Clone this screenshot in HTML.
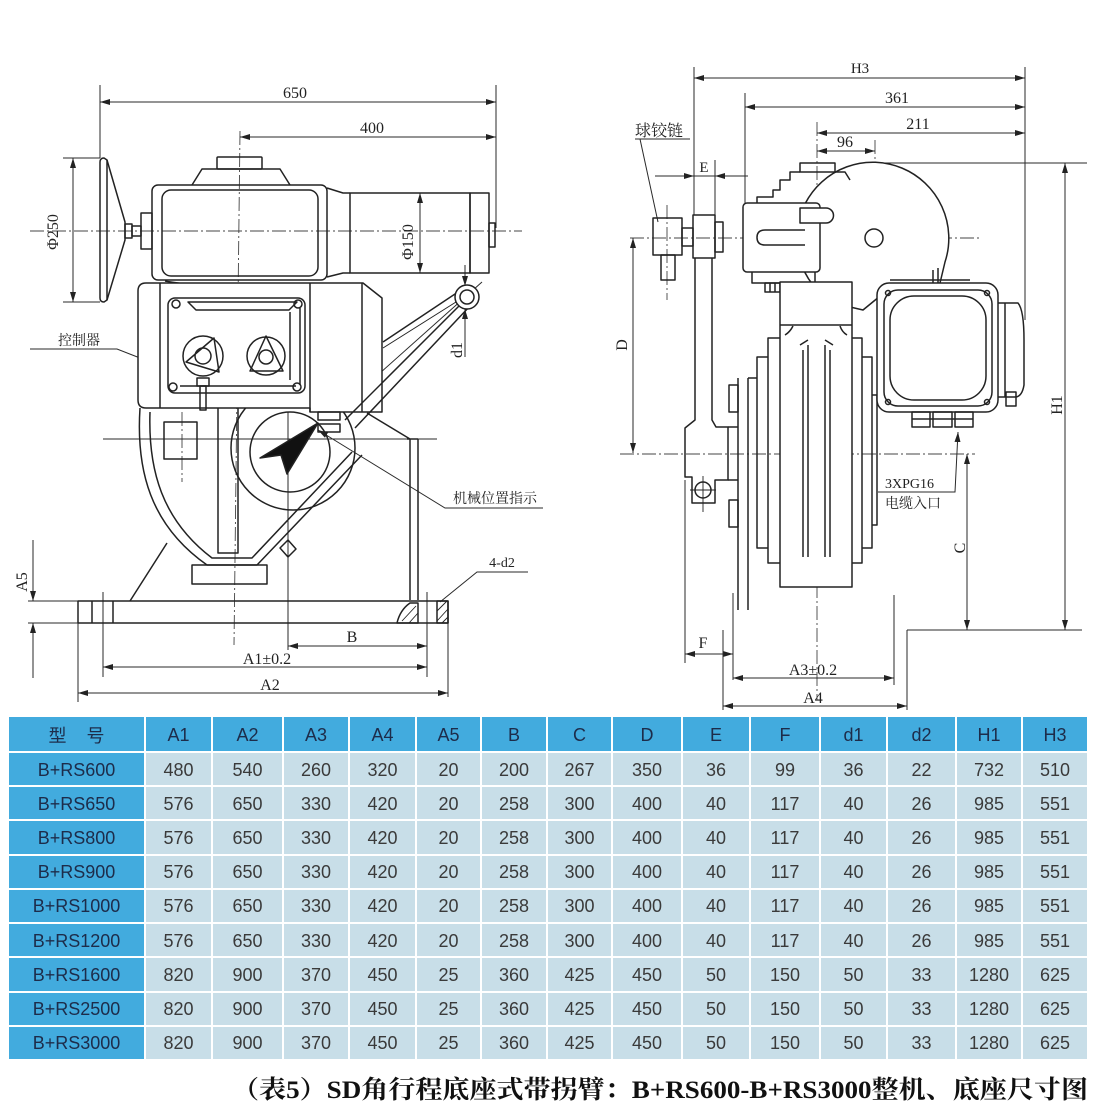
<!DOCTYPE html>
<html><head><meta charset="utf-8">
<style>
html,body{margin:0;padding:0;background:#fff;}
body{width:1111px;height:1113px;position:relative;overflow:hidden;}
.tbl{position:absolute;left:9px;top:717px;width:1080px;display:grid;
grid-template-columns:137px 67px 71px 66px 67px 65px 66px 65px 70px 68px 70px 67px 69px 66px 66px;
grid-template-rows:36px repeat(9,34.22px);}
.tbl div{box-sizing:border-box;border-right:2px solid #fff;border-bottom:2px solid #fff;display:flex;align-items:center;justify-content:center;background:#c8dee8;font-family:"Liberation Sans","Noto Sans CJK SC",sans-serif;font-size:18px;color:#3a3a3a;padding-top:2px;}
.tbl div.h{background:#42abde;color:#1d2c4a;}
.tbl div.m{background:#42abde;color:#1d2c4a;}
</style></head><body>
<svg width="1111" height="712" style="position:absolute;left:0;top:0" xmlns="http://www.w3.org/2000/svg">
<defs>
<marker id="a" viewBox="0 0 10 6" refX="10" refY="3" markerWidth="10" markerHeight="6" markerUnits="userSpaceOnUse" orient="auto-start-reverse"><path d="M0,0L10,3L0,6z" fill="#222"/></marker>
</defs>
<!-- centerlines -->
<g fill="none" stroke="#444" stroke-width="0.9" stroke-dasharray="14 3 2 3">
<path d="M30,231H522"/><path d="M240,131L234,645"/><path d="M182,412V482"/>
<path d="M630,238H980"/><path d="M620,454H975"/><path d="M817,122V700"/><path d="M875,140V265"/><path d="M667,205V300"/>
</g>
<!-- dimension lines -->
<g fill="none" stroke="#2a2a2a" stroke-width="1">
<path d="M100,102H496" marker-start="url(#a)" marker-end="url(#a)"/>
<path d="M100,85V158M496,85V228"/>
<path d="M240,137H496" marker-start="url(#a)" marker-end="url(#a)"/>
<path d="M73,158V302" marker-start="url(#a)" marker-end="url(#a)"/>
<path d="M63,158H100M63,302H100"/>
<path d="M420,193V273" marker-start="url(#a)" marker-end="url(#a)"/>
<path d="M465,265V286" marker-end="url(#a)"/>
<path d="M465,309V357" marker-start="url(#a)"/>
<path d="M33,540V601" marker-end="url(#a)"/>
<path d="M33,623V678" marker-start="url(#a)"/>
<path d="M28,601H78M28,623H78"/>
<path d="M288,646H427" marker-start="url(#a)" marker-end="url(#a)"/>
<path d="M288,412V650"/>
<path d="M103,667H427" marker-start="url(#a)" marker-end="url(#a)"/>
<path d="M103,592V677M427,592V677"/>
<path d="M78,693H448" marker-start="url(#a)" marker-end="url(#a)"/>
<path d="M78,623V702M448,623V697"/>
<path d="M30,349H117L158,365" marker-end="url(#a)"/>
<path d="M543,508H445L318,430" marker-end="url(#a)"/>
<path d="M528,572H477L440,602"/>
<path d="M103,439H437"/>
<!-- right view dims -->
<path d="M694,78H1025" marker-start="url(#a)" marker-end="url(#a)"/>
<path d="M745,107H1025" marker-start="url(#a)" marker-end="url(#a)"/>
<path d="M817,133H1025" marker-start="url(#a)" marker-end="url(#a)"/>
<path d="M817,151H875" marker-start="url(#a)" marker-end="url(#a)"/>
<path d="M694,67V215M745,93V203M1025,67V320M875,163H1087"/>
<path d="M1065,163V630" marker-start="url(#a)" marker-end="url(#a)"/>
<path d="M967,454V630" marker-start="url(#a)" marker-end="url(#a)"/>
<path d="M633,238V453" marker-start="url(#a)" marker-end="url(#a)"/>
<path d="M655,176H694" marker-end="url(#a)"/>
<path d="M748,176H715" marker-end="url(#a)"/>
<path d="M694,176H715M715,160V215"/>
<path d="M685,654H733" marker-start="url(#a)" marker-end="url(#a)"/>
<path d="M685,480V663M733,593V680"/>
<path d="M733,678H894" marker-start="url(#a)" marker-end="url(#a)"/>
<path d="M894,595V685"/>
<path d="M723,706H907" marker-start="url(#a)" marker-end="url(#a)"/>
<path d="M723,630V710M907,630V710M907,630H1082"/>
<path d="M635,139H690M640,139L658,222"/>
<path d="M878,492H955L958,432" marker-end="url(#a)"/>
<path d="M380,373L482,282"/>
</g>
<!-- main outlines -->
<g fill="none" stroke="#222" stroke-width="1.5" stroke-linejoin="round">
<!-- handwheel -->
<path d="M100,162Q100,158 104,158L107,160L125,222V240L107,300L104,302Q100,302 100,298Z"/>
<path d="M107,160V300"/>
<rect x="125" y="224" width="7" height="14"/>
<rect x="132" y="226" width="9" height="10"/>
<rect x="141" y="213" width="11" height="36"/>
<!-- upper housing -->
<rect x="152" y="185" width="175" height="95" rx="6"/>
<rect x="162" y="190" width="156" height="86" rx="9"/>
<path d="M192,185L202,169H280L290,185"/>
<rect x="217" y="157" width="45" height="12" rx="1"/>
<path d="M327,188L343,193H350M327,277L343,273H350"/>
<rect x="350" y="193" width="120" height="80"/>
<rect x="470" y="193" width="19" height="80"/>
<rect x="489" y="223" width="6" height="24"/>
<path d="M165,281Q200,288 300,286M180,285H290"/>
<!-- circles -->
<circle cx="293" cy="448" r="62"/>
<circle cx="290" cy="452" r="40"/>
<!-- lower body -->
<path d="M140,408C136,470 150,525 207,565H257L362,455"/>
<path d="M150,412C148,470 162,520 212,558H252L352,452"/>
<rect x="192" y="565" width="75" height="19"/>
<rect x="218" y="407" width="20" height="146"/>
<rect x="164" y="422" width="33" height="37"/>
<path d="M280,548L288,540L296,549L288,557Z"/>
<path d="M410,439V600M418,439V600M407,439H418M367,413L410,439"/>
<path d="M167,543L130,601"/>
<!-- base -->
<rect x="78" y="601" width="370" height="22"/>
<path d="M92,601V623M113,601V623"/>
<rect x="437" y="601" width="11" height="22"/>
<path d="M437,611L447,601M437,621L448,609M442,623L448,617" stroke-width="0.9"/>
<path d="M397,623Q400,610 410,603H418V623Z"/>
<path d="M402,621L416,606M409,623L418,613" stroke-width="0.9"/>
<!-- controller -->
<path d="M146,283H363L382,298V412H310V408H146Q138,408 138,400V291Q138,283 146,283Z" fill="#fff"/>
<path d="M160,283V408M310,283V412M362,283V412"/>
<rect x="168" y="298" width="137" height="95" rx="7"/>
<path d="M188,302H297L289,310H196Z"/>
<path d="M290,312V380M300,308V385M180,386H296"/>
<circle cx="176" cy="304" r="4"/><circle cx="298" cy="304" r="4"/>
<circle cx="173" cy="387" r="4"/><circle cx="297" cy="387" r="4"/>
<circle cx="203" cy="356" r="20"/><circle cx="203" cy="356" r="8"/>
<path d="M214,338L186,362L219,372Z"/>
<circle cx="266" cy="356" r="19"/><circle cx="266" cy="357" r="7"/>
<path d="M266,336L250,371H283Z"/>
<rect x="197" y="378" width="12" height="8"/>
<rect x="200" y="386" width="6" height="24"/>
<!-- arm -->
<path d="M383,342L458,292"/>
<path d="M383,348L456,302" stroke-width="1"/>
<path d="M470,306L355,428"/>
<path d="M462,303L345,420"/>
<circle cx="467" cy="297" r="12" fill="#fff"/>
<circle cx="467" cy="297" r="7"/>
<rect x="318" y="412" width="22" height="8"/>
<rect x="318" y="424" width="22" height="8"/>
<path d="M318,423L260,458L281,455L287,474Z" fill="#111"/>

<!-- RIGHT VIEW -->
<path d="M833,303A76,76 0 1 1 945,262L940,283" fill="#fff"/>
<path d="M833,303L863,310L885,292"/>
<circle cx="874" cy="238" r="9"/>
<rect x="743" y="203" width="77" height="69" rx="4" fill="#fff"/>
<path d="M800,208H826A7.5,7.5 0 0 1 826,223H800Z" fill="#fff"/>
<path d="M805,230H765Q757,230 757,237.5Q757,245 765,245H805"/>
<path d="M752,272V283H815V272"/>
<rect x="765" y="283" width="15" height="9"/>
<path d="M770,283V292M775,283V292"/>
<path d="M757,203V197H773V190H780V180H790V172H800M835,172H845L850,180"/>
<rect x="800" y="163" width="35" height="9"/>
<rect x="780" y="282" width="72" height="305" fill="#fff"/>
<path d="M780,325H852"/>
<path d="M785,335Q790,332 793,326M847,335Q842,332 840,326"/>
<path d="M803,350V557M808,345V557M825,345V557M830,350V557M800,345L808,340M833,345L825,340"/>
<path d="M780,338H768V563H780M768,357H757V548H768M757,378H748"/>
<path d="M852,338H862V563H852M862,357H872V548H862M872,395H877V525H872"/>
<path d="M738,378V610M748,378V610"/>
<rect x="729" y="385" width="9" height="27"/>
<rect x="729" y="500" width="9" height="27"/>
<path d="M695,258V420L685,428V477H692V503H715V480H728V427H716L712,420V258"/>
<path d="M728,427H738M728,480H738"/>
<circle cx="703" cy="490" r="8"/>
<path d="M690,490H716M703,476V512" stroke-width="0.9"/>
<rect x="653" y="218" width="29" height="37"/>
<rect x="661" y="255" width="14" height="25"/>
<rect x="682" y="228" width="11" height="18"/>
<rect x="693" y="215" width="22" height="43"/>
<rect x="715" y="222" width="8" height="30"/>
<path d="M890,280H970M933,270V283M938,268V283"/>
<rect x="877" y="283" width="121" height="129" rx="12" fill="#fff"/>
<rect x="884" y="290" width="108" height="116" rx="14"/>
<rect x="890" y="296" width="96" height="104" rx="24"/>
<circle cx="888" cy="293" r="2.5"/><circle cx="987" cy="293" r="2.5"/>
<circle cx="888" cy="402" r="2.5"/><circle cx="987" cy="402" r="2.5"/>
<path d="M998,303H1018Q1024,310 1024,340V385Q1022,397 1015,397H998M1005,303V397"/>
<rect x="1006" y="392" width="10" height="14"/>
<rect x="912" y="412" width="18" height="15"/>
<rect x="933" y="412" width="19" height="15"/>
<rect x="955" y="412" width="18" height="15"/>
<path d="M912,419H973"/>
</g>
<!-- texts -->
<g font-family="'Liberation Serif','Noto Serif CJK SC',serif" font-size="16" fill="#222" text-anchor="middle">
<text x="295" y="98">650</text>
<text x="372" y="133">400</text>
<text transform="translate(58,232) rotate(-90)">Φ250</text>
<text transform="translate(413,242) rotate(-90)">Φ150</text>
<text transform="translate(462,350) rotate(-90)">d1</text>
<text transform="translate(27,582) rotate(-90)">A5</text>
<text x="352" y="642">B</text>
<text x="267" y="664">A1±0.2</text>
<text x="270" y="690">A2</text>
<text x="502" y="567" font-size="14">4-d2</text>
<text x="860" y="73" font-size="15">H3</text>
<text x="897" y="103">361</text>
<text x="918" y="129">211</text>
<text x="845" y="147">96</text>
<text x="704" y="172" font-size="15">E</text>
<text transform="translate(627,345) rotate(-90)">D</text>
<text transform="translate(1062,405) rotate(-90)">H1</text>
<text transform="translate(965,548) rotate(-90)">C</text>
<text x="703" y="648">F</text>
<text x="813" y="675">A3±0.2</text>
<text x="813" y="703">A4</text>
</g>
<g font-family="'Liberation Serif','Noto Serif CJK SC',serif" font-size="14" fill="#222">
<text x="58" y="345">控制器</text>
<text x="453" y="503">机械位置指示</text>
<text x="635" y="136" font-size="16">球铰链</text>
<text x="885" y="488">3XPG16</text>
<text x="885" y="508">电缆入口</text>
</g>
</svg>

<div class="tbl">
<div class="h">型&nbsp;&nbsp;&nbsp;&nbsp;号</div><div class="h">A1</div><div class="h">A2</div><div class="h">A3</div><div class="h">A4</div><div class="h">A5</div><div class="h">B</div><div class="h">C</div><div class="h">D</div><div class="h">E</div><div class="h">F</div><div class="h">d1</div><div class="h">d2</div><div class="h">H1</div><div class="h">H3</div>
<div class="m">B+RS600</div><div>480</div><div>540</div><div>260</div><div>320</div><div>20</div><div>200</div><div>267</div><div>350</div><div>36</div><div>99</div><div>36</div><div>22</div><div>732</div><div>510</div>
<div class="m">B+RS650</div><div>576</div><div>650</div><div>330</div><div>420</div><div>20</div><div>258</div><div>300</div><div>400</div><div>40</div><div>117</div><div>40</div><div>26</div><div>985</div><div>551</div>
<div class="m">B+RS800</div><div>576</div><div>650</div><div>330</div><div>420</div><div>20</div><div>258</div><div>300</div><div>400</div><div>40</div><div>117</div><div>40</div><div>26</div><div>985</div><div>551</div>
<div class="m">B+RS900</div><div>576</div><div>650</div><div>330</div><div>420</div><div>20</div><div>258</div><div>300</div><div>400</div><div>40</div><div>117</div><div>40</div><div>26</div><div>985</div><div>551</div>
<div class="m">B+RS1000</div><div>576</div><div>650</div><div>330</div><div>420</div><div>20</div><div>258</div><div>300</div><div>400</div><div>40</div><div>117</div><div>40</div><div>26</div><div>985</div><div>551</div>
<div class="m">B+RS1200</div><div>576</div><div>650</div><div>330</div><div>420</div><div>20</div><div>258</div><div>300</div><div>400</div><div>40</div><div>117</div><div>40</div><div>26</div><div>985</div><div>551</div>
<div class="m">B+RS1600</div><div>820</div><div>900</div><div>370</div><div>450</div><div>25</div><div>360</div><div>425</div><div>450</div><div>50</div><div>150</div><div>50</div><div>33</div><div>1280</div><div>625</div>
<div class="m">B+RS2500</div><div>820</div><div>900</div><div>370</div><div>450</div><div>25</div><div>360</div><div>425</div><div>450</div><div>50</div><div>150</div><div>50</div><div>33</div><div>1280</div><div>625</div>
<div class="m">B+RS3000</div><div>820</div><div>900</div><div>370</div><div>450</div><div>25</div><div>360</div><div>425</div><div>450</div><div>50</div><div>150</div><div>50</div><div>33</div><div>1280</div><div>625</div>
</div>

<svg width="1111" height="50" style="position:absolute;left:0;top:1063px" xmlns="http://www.w3.org/2000/svg">
<text x="232" y="35" textLength="856" lengthAdjust="spacingAndGlyphs" font-family="'Liberation Serif','Noto Serif CJK SC',serif" font-weight="bold" font-size="25" fill="#111">（表5）SD角行程底座式带拐臂：B+RS600-B+RS3000整机、底座尺寸图</text>
</svg>
</body></html>
